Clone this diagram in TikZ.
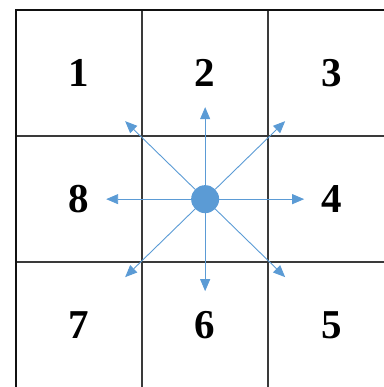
\documentclass[tikz,border=0pt]{standalone}
\usepackage{fontspec}
\setmainfont{Liberation Serif}
\usetikzlibrary{arrows.meta,positioning,calc}
\definecolor{grid}{HTML}{3A3A3A}
\definecolor{frame}{HTML}{111111}
\definecolor{flow}{HTML}{5B9BD5}

\begin{document}
\begin{tikzpicture}[
  x=1pt, y=1pt,
  >={Triangle[length=12pt,width=10pt]},
  cell/.style={draw=grid, line width=0.9pt, minimum size=125.5pt, inner sep=0pt,
               font=\fontsize{41}{41}\selectfont\bfseries},
  hub/.style={circle, fill=flow, minimum size=28pt, inner sep=0pt},
  spoke/.style={->, flow, line width=0.9pt},
]
\useasboundingbox (0,0) rectangle (383,387);

% ============================================================ GRID
\node[cell] (c1) at (78.75,314.25) {1};
\node[cell, right=0pt of c1] (c2) {2};
\node[cell, right=0pt of c2] (c3) {3};
\node[cell, below=0pt of c1] (c8) {8};
\node[cell, right=0pt of c8] (c0) {};
\node[cell, right=0pt of c0] (c4) {4};
\node[cell, below=0pt of c8] (c7) {7};
\node[cell, right=0pt of c7] (c6) {6};
\node[cell, right=0pt of c6] (c5) {5};

% thicker outer frame
\draw[frame, line width=2pt] (c1.north west) rectangle (c5.south east);

% ============================================================ CENTRE AND SPOKES
\node[hub] (hub) at (c0.center) {};

\coordinate (tN)  at ([shift={(0,92)}]hub.center);
\coordinate (tS)  at ([shift={(0,-92)}]hub.center);
\coordinate (tE)  at ([shift={(99,0)}]hub.center);
\coordinate (tW)  at ([shift={(-99,0)}]hub.center);
\coordinate (tNE) at ([shift={(80,78)}]hub.center);
\coordinate (tNW) at ([shift={(-80,78)}]hub.center);
\coordinate (tSE) at ([shift={(80,-78)}]hub.center);
\coordinate (tSW) at ([shift={(-80,-78)}]hub.center);

\draw[spoke] (hub) -- (tN);
\draw[spoke] (hub) -- (tNE);
\draw[spoke] (hub) -- (tE);
\draw[spoke] (hub) -- (tSE);
\draw[spoke] (hub) -- (tS);
\draw[spoke] (hub) -- (tSW);
\draw[spoke] (hub) -- (tW);
\draw[spoke] (hub) -- (tNW);

\end{tikzpicture}
\end{document}
